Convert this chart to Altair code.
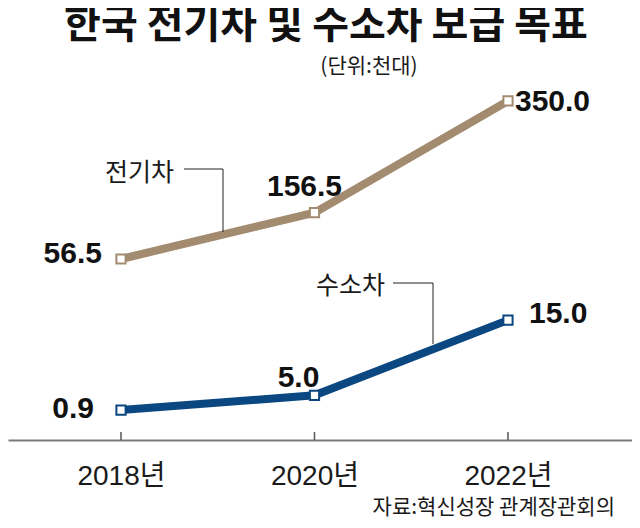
import altair as alt
import pandas as pd

# ---- data ----
years = [2018, 2020, 2022]
ev_values = [56.5, 156.5, 350.0]      # 전기차 (천대)
h2_values = [0.9, 5.0, 15.0]          # 수소차 (천대)
year_ticks = [2018, 2020, 2022]
title_text = "한국 전기차 및 수소차 보급 목표"
unit_text = "(단위:천대)"
source_text = "자료:혁신성장 관계장관회의"
ev_name = "전기차"
h2_name = "수소차"

EV_COLOR = "#a38b70"
H2_COLOR = "#0b4780"
NUM_FONT = "'Liberation Sans', Arial, sans-serif"
KR_FONT = "'Noto Sans CJK KR', sans-serif"
MIX_FONT = "'Liberation Sans', 'Noto Sans CJK KR', sans-serif"

W, H = 624, 350
X_DOMAIN = [2016.832, 2023.282]

df = pd.DataFrame({"year": years, "ev": ev_values, "h2": h2_values})

x_enc = alt.X("year:Q",
              scale=alt.Scale(domain=X_DOMAIN, nice=False, zero=False),
              axis=alt.Axis(values=year_ticks, labelExpr="datum.value + '년'",
                            ticks=False, grid=False, title=None,
                            domainColor="#7a7a7a", domainWidth=2,
                            labelFont=MIX_FONT, labelFontSize=28, labelColor="#1a1a1a",
                            labelPadding=22, labelFlush=False))

ev_y = alt.Y("ev:Q", axis=None,
             scale=alt.Scale(type="pow", exponent=1.25, domain=[-329.0, 367.3],
                             nice=False, zero=False))
h2_y = alt.Y("h2:Q", axis=None,
             scale=alt.Scale(type="pow", exponent=1.6, domain=[-7.34, 33.0],
                             nice=False, zero=False))

base = alt.Chart(df)


def series(field, y, color, offsets):
    line = base.mark_line(color=color, strokeWidth=8).encode(x=x_enc, y=y)
    pts = base.mark_point(shape="square", filled=True, fill="white", stroke=color,
                          strokeWidth=2, size=85, opacity=1).encode(x=x_enc, y=y)
    layers = [line, pts]
    for yr, (align, dx, dy) in offsets.items():
        layers.append(
            base.transform_filter(alt.datum.year == yr)
            .mark_text(font=NUM_FONT, fontWeight="bold", fontSize=30, color="#111111",
                       align=align, baseline="alphabetic", dx=dx, dy=dy)
            .encode(x=x_enc, y=y, text=alt.Text(f"{field}:Q", format=".1f"))
        )
    return alt.layer(*layers)


ev_layer = series("ev", ev_y, EV_COLOR, {
    2018: ("right", -19, 4),
    2020: ("center", -10, -17),
    2022: ("left", 7, 10),
})
h2_layer = series("h2", h2_y, H2_COLOR, {
    2018: ("right", -27, 8),
    2020: ("center", -16, -8),
    2022: ("left", 21, 3),
})

# small tick marks rising from the baseline
ticks = alt.Chart(pd.DataFrame({"year": year_ticks})).mark_rule(
    color="#555555", strokeWidth=1.5).encode(
    x=alt.X("year:Q", scale=alt.Scale(domain=X_DOMAIN, nice=False, zero=False)),
    y=alt.value(H - 8), y2=alt.value(H))

# leader lines for series names (annotations)
lead = pd.DataFrame({
    "x1": [176, 215, 385, 425], "x2": [215, 215, 425, 425],
    "y1": [79, 79, 193, 193], "y2": [79, 142, 193, 254],
})
leaders = alt.Chart(lead).mark_rule(color="#222222", strokeWidth=1).encode(
    x=alt.X("x1:Q", scale=None), x2="x2:Q",
    y=alt.Y("y1:Q", scale=None), y2="y2:Q")

names = pd.DataFrame({"name": [ev_name, h2_name], "px": [166, 377], "py": [91, 204]})
name_text = alt.Chart(names).mark_text(
    font=KR_FONT, fontSize=25, color="#1a1a1a", align="right", baseline="alphabetic").encode(
    x=alt.X("px:Q", scale=None), y=alt.Y("py:Q", scale=None), text="name:N")

title = alt.Chart(pd.DataFrame({"t": [title_text]})).mark_text(
    font=KR_FONT, fontSize=40, fontWeight="bold", color="#111111",
    align="center", baseline="alphabetic").encode(
    x=alt.value(318), y=alt.value(-52), text="t:N")

unit = alt.Chart(pd.DataFrame({"t": [unit_text]})).mark_text(
    font=KR_FONT, fontSize=21, color="#1a1a1a", align="center", baseline="alphabetic").encode(
    x=alt.value(361), y=alt.value(-17), text="t:N")

source = alt.Chart(pd.DataFrame({"t": [source_text]})).mark_text(
    font=KR_FONT, fontSize=21, color="#1a1a1a", align="right", baseline="alphabetic").encode(
    x=alt.value(607), y=alt.value(H + 74), text="t:N")

chart = alt.layer(ev_layer, h2_layer, ticks, leaders, name_text, title, unit, source).resolve_scale(
    y="independent"
).properties(
    width=W, height=H,
    autosize=alt.AutoSizeParams(type="none"),
    padding={"top": 82, "left": 0, "right": 0, "bottom": 80},
    background="white",
).configure_view(stroke=None)

chart.save("out.html", embed_options={"renderer": "svg", "actions": False})
